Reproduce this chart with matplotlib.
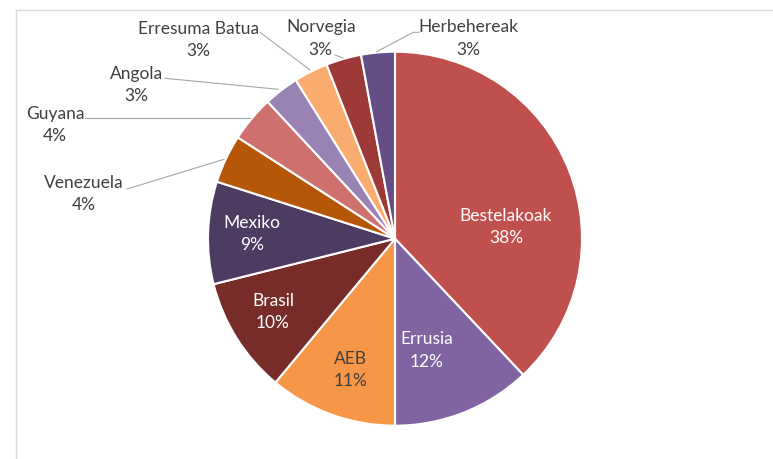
import matplotlib
matplotlib.use("Agg")
import matplotlib.pyplot as plt

categories = ["Bestelakoak", "Errusia", "AEB", "Brasil", "Mexiko", "Venezuela",
              "Guyana", "Angola", "Erresuma Batua", "Norvegia", "Herbehereak"]
values = [37.98, 12.02, 11.04, 10.05, 8.84, 4.18, 3.97, 3.02, 2.94, 3.05, 2.91]
colors = ["#C0504D", "#8064A2", "#F79646", "#772C2A", "#4D3B62", "#B65708",
          "#CD706E", "#9983B5", "#F9AC6D", "#9D3A38", "#654E85"]
text_colors = ["white", "white", "#404040", "white", "white",
               "#404040", "#404040", "#404040", "#404040", "#404040", "#404040"]

W, H = 773, 459
fig = plt.figure(figsize=(W / 100, H / 100), dpi=100)
ax = fig.add_axes([0, 0, 1, 1])
ax.set_xlim(0, W)
ax.set_ylim(0, H)
ax.set_aspect("equal")
ax.axis("off")

def Y(py):
    return H - py

cx, cy, r = 395, 238.7, 187
ax.pie(values, colors=colors, startangle=90, counterclock=False,
       center=(cx, Y(cy)), radius=r,
       wedgeprops=dict(edgecolor="white", linewidth=1.5))
ax.set_xlim(0, W)
ax.set_ylim(0, H)

# chart frame
ax.plot([15.5, W], [Y(10), Y(10)], color="#D9D9D9", lw=1)
ax.plot([15.5, 15.5], [Y(10), 0], color="#D9D9D9", lw=1)

label_pos = [(506, 227), (427, 350.5), (350.7, 370), (273, 312), (251.7, 234),
             (83.3, 194), (55, 125), (136.7, 85), (198.8, 40), (320.8, 38.3),
             (468.6, 38.5)]
leaders = {
    "Venezuela": [(127, 189), (224, 159.3)],
    "Guyana": [(85, 118.3), (250, 118.3)],
    "Angola": [(165, 78.3), (278.3, 89.3)],
    "Erresuma Batua": [(260, 32.3), (310, 70)],
    "Norvegia": [(335, 55), (343, 58)],
    "Herbehereak": [(419, 32.3), (413.3, 32.3), (376.7, 51.7)],
}

for cat, v, (px, py), tc in zip(categories, values, label_pos, text_colors):
    ax.text(px, Y(py), f"{cat}\n{round(v)}%", ha="center", va="center",
            color=tc, fontsize=12.5, family="Lato", linespacing=1.5)
    if cat in leaders:
        xs = [p[0] for p in leaders[cat]]
        ys = [Y(p[1]) for p in leaders[cat]]
        ax.plot(xs, ys, color="#A6A6A6", lw=0.8)

fig.savefig("out.png", dpi=100)
